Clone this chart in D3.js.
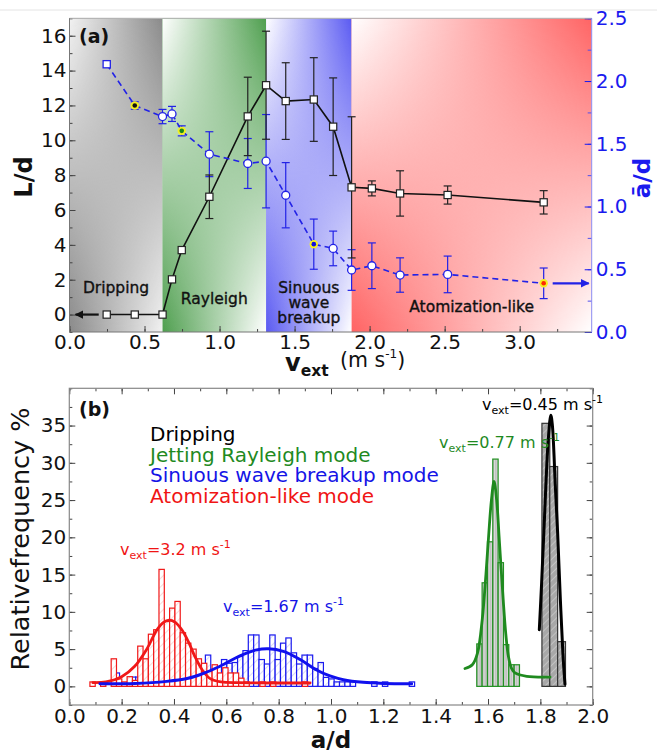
<!DOCTYPE html>
<html><head><meta charset="utf-8">
<script src="https://cdn.jsdelivr.net/npm/d3@7"></script>
<style>
body{margin:0;background:#fff}
svg{display:block}
text{font-family:'DejaVu Sans',sans-serif}
</style>
</head><body>
<svg id="c" width="657" height="753"></svg>
<script>
// ================= DATA =================
// Panel (a)
const vext   = [0.248,0.435,0.62,0.683,0.748,0.932,1.188,1.31,1.441,1.628,1.757,1.88,2.015,2.203,2.52,3.16];
const LdVal  = [0,0,0,2.02,3.7,6.76,11.37,13.16,12.25,12.34,10.78,7.3,7.24,6.95,6.86,6.44];
const LdErr  = [0,0,0,0,0,1.25,2.25,3.1,2.2,2.4,2.8,4.05,0.43,1.3,0.52,0.67];
const adVal  = [2.134,1.805,1.717,1.738,1.603,1.417,1.343,1.361,1.09,0.70,0.666,0.494,0.528,0.454,0.459,0.388];
const adErr  = [0,0.03,0.057,0.06,0.04,0.179,0.199,0.372,0.26,0.2,0.138,0.162,0.182,0.137,0.146,0.122];
const regionNames = [["Dripping"],["Rayleigh"],["Sinuous","wave","breakup"],["Atomization-like"]];
const regionEdges = [0,0.62,1.31,1.88,3.48];
const xTicksA  = [0,0.5,1.0,1.5,2.0,2.5,3.0];
const yTicksA  = [0,2,4,6,8,10,12,14,16];
const y2TicksA = [0,0.5,1.0,1.5,2.0,2.5];

// Panel (b)
const legendLabels = ["Dripping","Jetting Rayleigh mode","Sinuous wave breakup mode","Atomization-like mode"];
const xTicksB = [0,0.2,0.4,0.6,0.8,1.0,1.2,1.4,1.6,1.8,2.0];
const yTicksB = [0,5,10,15,20,25,30,35];

const redStart = 0.0788, redW = 0.0203;
const redPct = [0.6,0,0.6,0, 3.7,1.0,0.6,1.3,0.8,5.4,3.7,7.0,7.6,15.7,8.7,10.5,11.4,7.2,5.8,5.0,3.7,3.1,2.0,2.9,1.8,2.5,1.8,1.8,1.1,
                0.6,0,0,0.6,0,0.6,0,0,0,0,0,0.6];
const blueStart = 0.151, blueW = 0.0205;
const bluePct = [0,1.8,0,0,1.25,1.25,0,0,0,0.6,0,0,0,2.6,2.5,1.2,1.8,3.0,4.2,1.8,1.2,3.6,3.1,3.2,4.0,4.8,
                 6.9,6.9,3.6,3.0,6.9,3.6,5.8,6.5,4.5,3.0,4.2,4.2,2.4,3.2,1.2,1.0,0.6,0.6,0.6,0.6,0,0,0,0.6,0,0.6,0,0,0,0,0.6];
const greenStart = 1.557, greenW = 0.0204;
const greenPct = [5.7,13.9,19.4,30.5,16.6,5.6,2.9,2.9,0,0,0,0,0,2.9];
const blackStart = 1.806, blackW = 0.030;
const blackPct = [35.3,29.5,6.0];

const redFitX   = [0.09,0.14,0.2,0.25,0.296,0.335,0.36,0.381,0.405,0.43,0.455,0.48,0.51,0.54,0.58,0.65,0.92];
const redFitY   = [0.5,0.6,1.3,2.7,5.0,7.6,8.6,8.9,8.6,7.6,6.0,4.0,2.1,1.0,0.6,0.5,0.45];
const blueFitX  = [0.117,0.25,0.372,0.45,0.499,0.576,0.652,0.716,0.761,0.818,0.882,0.945,0.996,1.047,1.123,1.2,1.308];
const blueFitY  = [0.36,0.4,0.67,1.05,1.56,2.7,4.1,4.9,5.05,4.7,3.6,2.2,1.4,0.9,0.54,0.4,0.36];
const greenFitX = [1.512,1.54,1.56,1.578,1.592,1.602,1.613,1.623,1.633,1.643,1.658,1.668,1.678,1.69,1.703,1.748,1.837];
const greenFitY = [2.4,2.9,4.5,9.0,15,20,25,27.5,25,19.7,11.6,7,4.0,2.4,1.8,1.35,1.25];
const blackFitX = [1.796,1.805,1.815,1.83,1.84,1.846,1.857,1.866,1.876,1.886,1.894];
const blackFitY = [7.6,14,22,33,36.4,35,27,20.6,12,4.5,0.3];

const annot = [
  {v:"0.45", color:"#000"},
  {v:"0.77", color:"#1f8a1f"},
  {v:"1.67", color:"#1414e6"},
  {v:"3.2",  color:"#f01414"}
];

// ================= DRAW =================
const svg = d3.select("#c");
const defs = svg.append("defs");
const ff = "'DejaVu Sans', sans-serif";

// faint page artifact line at top
svg.append("line").attr("x1",0).attr("x2",657).attr("y1",10).attr("y2",10).attr("stroke","#e4e4e4").attr("stroke-width",1);

// ---------- Panel (a) ----------
const A = {l:69.5, r:591.7, t:18.3, b:332};
const xA  = d3.scaleLinear().domain([0,3.48]).range([A.l,A.r]);
const yA  = d3.scaleLinear().domain([-1,17]).range([A.b,A.t]);
const yA2 = d3.scaleLinear().domain([0,2.5]).range([A.b,A.t]);

// region backgrounds (saddle-shaped gradients)
const regColors = [["#8a8a8a","#f2f2f2"],["#4f9f4f","#ffffff"],["#5a5af2","#ffffff"],["#ff6464","#ffffff"]];
const vg = defs.append("linearGradient").attr("id","vgrad").attr("x1",0).attr("y1",0).attr("x2",0).attr("y2",1);
vg.append("stop").attr("offset",0).attr("stop-color","#fff");
vg.append("stop").attr("offset",1).attr("stop-color","#000");
defs.append("mask").attr("id","topmask").attr("maskUnits","userSpaceOnUse")
  .attr("x",A.l).attr("y",A.t).attr("width",A.r-A.l).attr("height",A.b-A.t)
  .append("rect").attr("x",A.l).attr("y",A.t).attr("width",A.r-A.l).attr("height",A.b-A.t).attr("fill","url(#vgrad)");

const gA = svg.append("g");
regionNames.forEach((nm,i)=>{
  const [c,w] = regColors[i];
  const g1 = defs.append("linearGradient").attr("id","rb"+i).attr("x1",0).attr("x2",1).attr("y1",0).attr("y2",0);
  g1.append("stop").attr("offset",0).attr("stop-color",c);
  g1.append("stop").attr("offset",1).attr("stop-color",w);
  const g2 = defs.append("linearGradient").attr("id","rt"+i).attr("x1",0).attr("x2",1).attr("y1",0).attr("y2",0);
  g2.append("stop").attr("offset",0).attr("stop-color",w);
  g2.append("stop").attr("offset",1).attr("stop-color",c);
  const x0 = xA(regionEdges[i]), x1 = xA(regionEdges[i+1]);
  gA.append("rect").attr("x",x0).attr("y",A.t).attr("width",x1-x0).attr("height",A.b-A.t).attr("fill",`url(#rb${i})`);
  gA.append("rect").attr("x",x0).attr("y",A.t).attr("width",x1-x0).attr("height",A.b-A.t).attr("fill",`url(#rt${i})`).attr("mask","url(#topmask)");
});

// region labels
const regBase = [[293],[304],[293,308,323],[312]];
regionNames.forEach((lines,i)=>{
  const cx = xA((regionEdges[i]+regionEdges[i+1])/2);
  lines.forEach((t,j)=>{
    gA.append("text").attr("x",cx).attr("y",regBase[i][j]).attr("text-anchor","middle")
      .attr("font-size",15.5).attr("fill","#111").attr("stroke","#111").attr("stroke-width",0.35).text(t);
  });
});

// axes panel a
function styleAxis(g, col){
  g.select(".domain").remove();
  g.selectAll("line").attr("stroke",col||"#444").attr("stroke-width",1);
  g.selectAll("text").attr("font-family",ff).attr("font-size",20).attr("fill",col||"#111");
}
const minorX = d3.range(0,3.5,0.25);
let ax;
ax = gA.append("g").attr("transform",`translate(0,${A.b})`).call(d3.axisBottom(xA).tickValues(minorX).tickFormat("").tickSize(-3)); styleAxis(ax);
ax = gA.append("g").attr("transform",`translate(0,${A.b})`).call(d3.axisBottom(xA).tickValues(xTicksA).tickFormat(d3.format(".1f")).tickSize(-6).tickPadding(3)); styleAxis(ax);
ax = gA.append("g").attr("transform",`translate(${A.l},0)`).call(d3.axisLeft(yA).tickValues(d3.range(-1,18,1)).tickFormat("").tickSize(-3)); styleAxis(ax);
ax = gA.append("g").attr("transform",`translate(${A.l},0)`).call(d3.axisLeft(yA).tickValues(yTicksA).tickFormat(d3.format("d")).tickSize(-6).tickPadding(3)); styleAxis(ax);
ax = gA.append("g").attr("transform",`translate(${A.r},0)`).call(d3.axisRight(yA2).tickValues(d3.range(0,2.6,0.25)).tickFormat("").tickSize(-4)); styleAxis(ax,"#5050ee");
ax = gA.append("g").attr("transform",`translate(${A.r},0)`).call(d3.axisRight(yA2).tickValues(y2TicksA).tickFormat(d3.format(".1f")).tickSize(-7).tickPadding(4)); styleAxis(ax,"#1a1aee");

// spines
gA.append("line").attr("x1",A.l).attr("x2",A.r).attr("y1",A.t).attr("y2",A.t).attr("stroke","#b0b0b0");
gA.append("line").attr("x1",A.l).attr("x2",A.r).attr("y1",A.b).attr("y2",A.b).attr("stroke","#777");
gA.append("line").attr("x1",A.l).attr("x2",A.l).attr("y1",A.t).attr("y2",A.b).attr("stroke","#777");
gA.append("line").attr("x1",A.r).attr("x2",A.r).attr("y1",A.t).attr("y2",A.b).attr("stroke","#8c8cf0");

// blue series: error bars, dashed line, markers
const blueC = "#2222e6";
const idx = d3.range(vext.length);
idx.forEach(i=>{
  if(adErr[i]>0){
    const x=xA(vext[i]), y1=yA2(adVal[i]-adErr[i]), y2=yA2(adVal[i]+adErr[i]);
    gA.append("line").attr("x1",x).attr("x2",x).attr("y1",y1).attr("y2",y2).attr("stroke",blueC).attr("stroke-width",1.2);
    [y1,y2].forEach(yy=>gA.append("line").attr("x1",x-4).attr("x2",x+4).attr("y1",yy).attr("y2",yy).attr("stroke",blueC).attr("stroke-width",1.2));
  }
});
// black series error bars
idx.forEach(i=>{
  if(LdErr[i]>0){
    const x=xA(vext[i]), y1=yA(LdVal[i]-LdErr[i]), y2=yA(LdVal[i]+LdErr[i]);
    gA.append("line").attr("x1",x).attr("x2",x).attr("y1",y1).attr("y2",y2).attr("stroke","#222").attr("stroke-width",1.2);
    [y1,y2].forEach(yy=>gA.append("line").attr("x1",x-4).attr("x2",x+4).attr("y1",yy).attr("y2",yy).attr("stroke","#222").attr("stroke-width",1.2));
  }
});
gA.append("path").datum(idx).attr("fill","none").attr("stroke","#111").attr("stroke-width",1.6)
  .attr("d",d3.line().x(i=>xA(vext[i])).y(i=>yA(LdVal[i])));
gA.append("path").datum(idx).attr("fill","none").attr("stroke",blueC).attr("stroke-width",1.6).attr("stroke-dasharray","6,4")
  .attr("d",d3.line().x(i=>xA(vext[i])).y(i=>yA2(adVal[i])));
// black square markers
gA.selectAll(".sq").data(idx).enter().append("rect")
  .attr("x",i=>xA(vext[i])-3.6).attr("y",i=>yA(LdVal[i])-3.6).attr("width",7.2).attr("height",7.2)
  .attr("fill","#fff").attr("stroke","#222").attr("stroke-width",1.2);
// blue markers
const special = {1:"#111",4:"#1b8a1b",9:"#1010e0",15:"#ff2a00"};
idx.forEach(i=>{
  const x=xA(vext[i]), y=yA2(adVal[i]);
  if(i===0){
    gA.append("rect").attr("x",x-3.6).attr("y",y-3.6).attr("width",7.2).attr("height",7.2).attr("fill","#fff").attr("stroke",blueC).attr("stroke-width",1.3);
  } else if(special[i]){
    gA.append("circle").attr("cx",x).attr("cy",y).attr("r",4.2).attr("fill","#f4f020");
    gA.append("circle").attr("cx",x).attr("cy",y).attr("r",2.3).attr("fill",special[i]);
  } else {
    gA.append("circle").attr("cx",x).attr("cy",y).attr("r",4).attr("fill","#fff").attr("stroke",blueC).attr("stroke-width",1.3);
  }
});

// arrows
function arrowHead(id,col){
  defs.append("marker").attr("id",id).attr("viewBox","0 0 10 10").attr("refX",9).attr("refY",5)
    .attr("markerWidth",4).attr("markerHeight",4).attr("orient","auto")
    .append("path").attr("d","M0,0 L10,5 L0,10 z").attr("fill",col);
}
arrowHead("ahK","#111"); arrowHead("ahB",blueC);
gA.append("line").attr("x1",xA(vext[0])-8).attr("x2",A.l+6).attr("y1",yA(0)).attr("y2",yA(0))
  .attr("stroke","#111").attr("stroke-width",2.2).attr("marker-end","url(#ahK)");
const last = vext.length-1;
gA.append("line").attr("x1",xA(vext[last])+9).attr("x2",A.r-3).attr("y1",yA2(adVal[last])).attr("y2",yA2(adVal[last]))
  .attr("stroke",blueC).attr("stroke-width",2.2).attr("marker-end","url(#ahB)");

// labels panel a
gA.append("text").attr("x",79).attr("y",43).attr("font-size",19).attr("font-weight","bold").attr("fill","#111").text("(a)");
gA.append("text").attr("transform","translate(32,177) rotate(-90)").attr("text-anchor","middle")
  .attr("font-size",24).attr("font-weight","bold").attr("fill","#111").text("L/d");
gA.append("text").attr("transform","translate(650,178) rotate(-90)").attr("text-anchor","middle")
  .attr("font-size",23).attr("font-weight","bold").attr("fill","#1a1aee").text("ā/d");
const xl = gA.append("text").attr("x",285).attr("y",371).attr("font-weight","bold").attr("fill","#111");
xl.append("tspan").attr("font-size",24).text("v");
xl.append("tspan").attr("font-size",15.5).attr("dy",5).text("ext");
const xl2 = gA.append("text").attr("x",340).attr("y",367).attr("font-size",20.5).attr("fill","#111");
xl2.append("tspan").text("(m s");
xl2.append("tspan").attr("font-size",12).attr("dy",-9).text("-1");
xl2.append("tspan").attr("dy",9).text(")");

// ---------- Panel (b) ----------
const B = {l:69.3, r:592.7, t:388.3, b:705};
const xB = d3.scaleLinear().domain([0,2]).range([B.l,B.r]);
const yB = d3.scaleLinear().domain([-2.5,40]).range([B.b,B.t]);
const gB = svg.append("g");

function hatch(id,bg,col,angle,sp){
  const p = defs.append("pattern").attr("id",id).attr("patternUnits","userSpaceOnUse")
    .attr("width",sp).attr("height",sp).attr("patternTransform",`rotate(${angle})`);
  p.append("rect").attr("width",sp).attr("height",sp).attr("fill",bg);
  p.append("line").attr("x1",0).attr("x2",0).attr("y1",0).attr("y2",sp).attr("stroke",col).attr("stroke-width",1);
}
hatch("hR","#fff","#f6b4b4",45,6);
hatch("hBl","#fff","#b4b4f6",45,6);
hatch("hG","#c2c2c2","#ececec",0,2.6);
hatch("hK","#a8a8a8","#dcdcdc",45,5);

function bars(start,w,vals,fill,stroke){
  vals.forEach((v,i)=>{
    if(v<=0) return;
    const x0=xB(start+i*w), x1=xB(start+(i+1)*w);
    gB.append("rect").attr("x",x0).attr("y",yB(v)).attr("width",x1-x0).attr("height",yB(0)-yB(v))
      .attr("fill",fill).attr("stroke",stroke).attr("stroke-width",1.2);
  });
}
bars(blueStart,blueW,bluePct,"url(#hBl)","#1a1aee");
bars(redStart,redW,redPct,"url(#hR)","#f01818");
bars(greenStart,greenW,greenPct,"url(#hG)","#229022");
bars(blackStart,blackW,blackPct,"url(#hK)","#333");

function fit(xs,ys,col,w){
  gB.append("path").datum(d3.range(xs.length)).attr("fill","none").attr("stroke",col).attr("stroke-width",w)
    .attr("stroke-linejoin","round").attr("stroke-linecap","round")
    .attr("d",d3.line().curve(d3.curveCatmullRom).x(i=>xB(xs[i])).y(i=>yB(ys[i])));
}
fit(redFitX,redFitY,"#f01818",2.8);
fit(blueFitX,blueFitY,"#1010ee",3);
fit(greenFitX,greenFitY,"#1f8a1f",2.8);
fit(blackFitX,blackFitY,"#000",3);

// axes panel b
ax = gB.append("g").attr("transform",`translate(0,${B.b})`).call(d3.axisBottom(xB).tickValues(d3.range(0,2.01,0.1)).tickFormat("").tickSize(-3)); styleAxis(ax);
ax = gB.append("g").attr("transform",`translate(0,${B.b})`).call(d3.axisBottom(xB).tickValues(xTicksB).tickFormat(d3.format(".1f")).tickSize(-6).tickPadding(4)); styleAxis(ax);
ax = gB.append("g").attr("transform",`translate(0,${B.t})`).call(d3.axisTop(xB).tickValues(d3.range(0,2.01,0.1)).tickFormat("").tickSize(-3)); styleAxis(ax);
ax = gB.append("g").attr("transform",`translate(0,${B.t})`).call(d3.axisTop(xB).tickValues(xTicksB).tickFormat("").tickSize(-6)); styleAxis(ax);
ax = gB.append("g").attr("transform",`translate(${B.l},0)`).call(d3.axisLeft(yB).tickValues(d3.range(-2.5,40.1,2.5)).tickFormat("").tickSize(-3)); styleAxis(ax);
ax = gB.append("g").attr("transform",`translate(${B.l},0)`).call(d3.axisLeft(yB).tickValues(yTicksB).tickFormat(d3.format("d")).tickSize(-6).tickPadding(3)); styleAxis(ax);
ax = gB.append("g").attr("transform",`translate(${B.r},0)`).call(d3.axisRight(yB).tickValues(d3.range(-2.5,40.1,2.5)).tickFormat("").tickSize(-3)); styleAxis(ax);
ax = gB.append("g").attr("transform",`translate(${B.r},0)`).call(d3.axisRight(yB).tickValues(yTicksB).tickFormat("").tickSize(-6)); styleAxis(ax);
gB.append("rect").attr("x",B.l).attr("y",B.t).attr("width",B.r-B.l).attr("height",B.b-B.t)
  .attr("fill","none").attr("stroke","#888").attr("stroke-width",1.2);

// legend text
const legCols = ["#000","#1f8a1f","#1414e6","#f01414"];
const legBase = [441,461.5,482,502.5];
legendLabels.forEach((t,i)=>{
  gB.append("text").attr("x",150).attr("y",legBase[i]).attr("font-size",20).attr("fill",legCols[i]).text(t);
});
gB.append("text").attr("x",79).attr("y",416).attr("font-size",19).attr("font-weight","bold").attr("fill","#111").text("(b)");

// v_ext annotations
const annPos = [[482,410],[439,448],[223,612],[120,555]];
annot.forEach((a,i)=>{
  const t = gB.append("text").attr("x",annPos[i][0]).attr("y",annPos[i][1]).attr("font-size",16).attr("fill",a.color);
  t.append("tspan").text("v");
  t.append("tspan").attr("font-size",11).attr("dy",4).text("ext");
  t.append("tspan").attr("dy",-4).text("="+a.v+" m s");
  t.append("tspan").attr("font-size",11).attr("dy",-7).text("-1");
});

// axis labels panel b
gB.append("text").attr("transform","translate(29,539) rotate(-90)").attr("text-anchor","middle")
  .attr("font-size",25.5).attr("fill","#111").text("Relativefrequency %");
gB.append("text").attr("x",331).attr("y",748).attr("text-anchor","middle")
  .attr("font-size",23).attr("font-weight","bold").attr("fill","#111").text("a/d");
</script>
</body></html>
